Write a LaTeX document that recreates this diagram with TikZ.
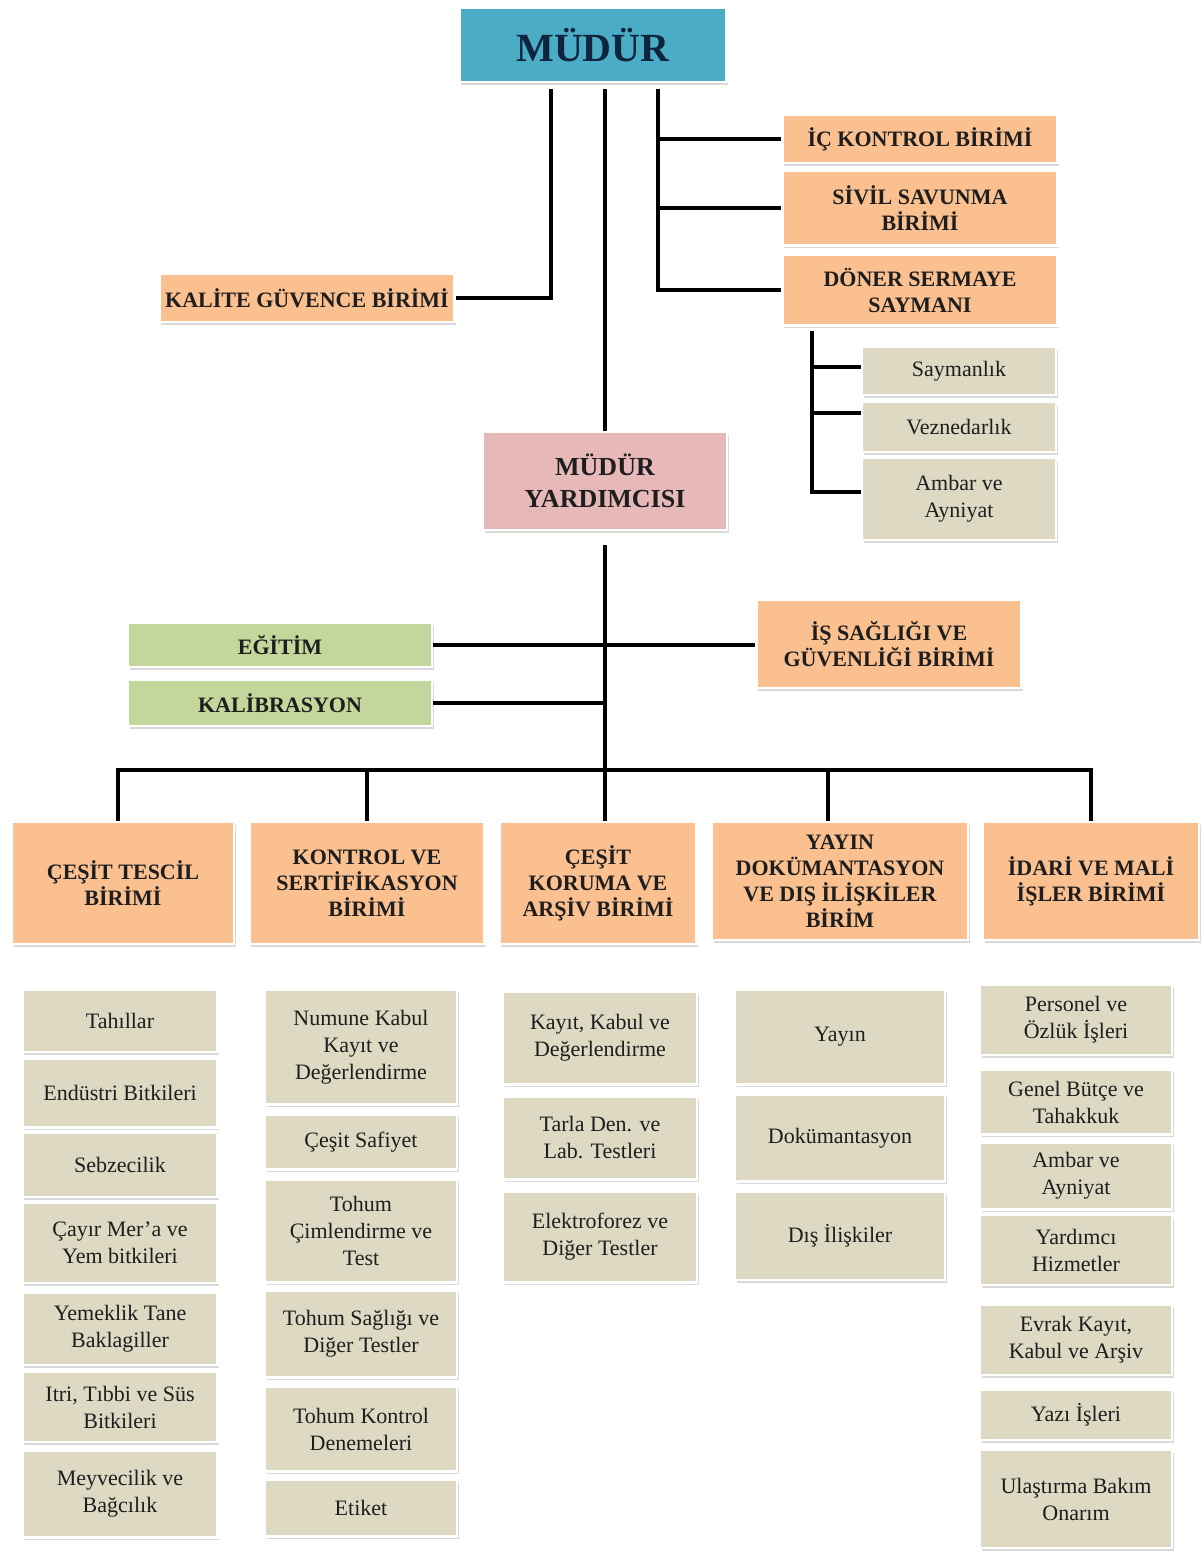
\documentclass[tikz,border=0pt]{standalone}
\usepackage{fontspec}
\setmainfont{Liberation Serif}
\usepackage{tikz}
\usetikzlibrary{shadows}
\usepackage{xcolor}

\definecolor{mudurblue}{HTML}{4BACC6}
\definecolor{mudurtext}{HTML}{0F243E}
\definecolor{unitorange}{HTML}{FAC090}
\definecolor{subgrey}{HTML}{DDD9C3}
\definecolor{edugreen}{HTML}{C3D69B}
\definecolor{yardpink}{HTML}{E6B9B8}
\definecolor{textdark}{HTML}{1E1E1E}

\tikzset{
    box/.style={rectangle, draw=white, line width=1.2pt, align=center, inner sep=2pt, text=textdark,
        drop shadow={shadow xshift=0.8pt, shadow yshift=-1.4pt, opacity=0.3}},
    sz/.style 2 args={minimum width=#1*0.5pt, minimum height=#2*0.5pt},
    head/.style={box, fill=unitorange, font=\fontsize{11}{13}\selectfont\bfseries},
    sub/.style={box, fill=subgrey, font=\fontsize{11}{13.5}\selectfont},
    edubox/.style={box, fill=edugreen, font=\fontsize{11}{13}\selectfont\bfseries},
    link/.style={line width=2.4pt, black}
}

\begin{document}
\begin{tikzpicture}[x=0.5pt, y=-0.5pt]

    \useasboundingbox (0,0) rectangle (1201,1559);

    % Top: Müdür and its units
    \node[box, fill=mudurblue, sz={267}{74}, text=mudurtext, font=\fontsize{20}{24}\selectfont\bfseries] (mudur) at (593,45) {MÜDÜR};
    \node[head, sz={275}{48}] (ic) at (920,139) {İÇ KONTROL BİRİMİ};
    \node[head, sz={275}{75}] (sivil) at (920,208) {SİVİL SAVUNMA\\BİRİMİ};
    \node[head, sz={275}{71}] (doner) at (920,290) {DÖNER SERMAYE\\SAYMANI};
    \node[head, sz={295}{48}] (kalite) at (307,298) {KALİTE GÜVENCE BİRİMİ};

    % Döner sermaye sub units
    \node[sub, sz={194}{48}] (saym) at (959,371) {Saymanlık};
    \node[sub, sz={194}{50}] (vezne) at (959,427) {Veznedarlık};
    \node[sub, sz={194}{82}] (ambar1) at (959,499) {Ambar ve\\Ayniyat};

    % Müdür yardımcısı
    \node[box, fill=yardpink, sz={244}{98}, font=\fontsize{13}{16}\selectfont\bfseries] (yard) at (605,481) {MÜDÜR\\YARDIMCISI};
    \node[edubox, sz={304}{44}] (egitim) at (280,645) {EĞİTİM};
    \node[edubox, sz={304}{46}] (kalib) at (280,703) {KALİBRASYON};
    \node[head, sz={265}{88}] (isg) at (889,644) {İŞ SAĞLIĞI VE\\GÜVENLİĞİ BİRİMİ};

    % Units
    \node[head, sz={222}{122}] (tescil) at (123,883) {ÇEŞİT TESCİL\\BİRİMİ};
    \node[head, sz={235}{122}] (kontrol) at (367,883) {KONTROL VE\\SERTİFİKASYON\\BİRİMİ};
    \node[head, sz={197}{122}] (koruma) at (598,883) {ÇEŞİT\\KORUMA VE\\ARŞİV BİRİMİ};
    \node[head, sz={256}{118}] (yayin) at (840,881) {YAYIN\\DOKÜMANTASYON\\VE DIŞ İLİŞKİLER\\BİRİM};
    \node[head, sz={216}{118}] (idari) at (1091,881) {İDARİ VE MALİ\\İŞLER BİRİMİ};

    % Çeşit tescil column
    \node[sub, sz={195}{62}] (tahil) at (120,1021) {Tahıllar};
    \node[sub, sz={195}{69}] (endustri) at (120,1093) {Endüstri Bitkileri};
    \node[sub, sz={195}{64}] (sebze) at (120,1165) {Sebzecilik};
    \node[sub, sz={195}{80}] (cayir) at (120,1243) {Çayır Mer’a ve\\Yem bitkileri};
    \node[sub, sz={195}{72}] (yemeklik) at (120,1329) {Yemeklik Tane\\Baklagiller};
    \node[sub, sz={195}{70}] (itri) at (120,1407) {Itri, Tıbbi ve Süs\\Bitkileri};
    \node[sub, sz={195}{87}] (meyve) at (120,1494) {Meyvecilik ve\\Bağcılık};

    % Kontrol ve sertifikasyon column
    \node[sub, sz={192}{115}] (numune) at (361,1047) {Numune Kabul\\Kayıt ve\\Değerlendirme};
    \node[sub, sz={192}{55}] (safiyet) at (361,1142) {Çeşit Safiyet};
    \node[sub, sz={192}{103}] (cimlen) at (361,1231) {Tohum\\Çimlendirme ve\\Test};
    \node[sub, sz={192}{87}] (saglik) at (361,1334) {Tohum Sağlığı ve\\Diğer Testler};
    \node[sub, sz={192}{85}] (deneme) at (361,1429) {Tohum Kontrol\\Denemeleri};
    \node[sub, sz={192}{57}] (etiket) at (361,1508) {Etiket};

    % Çeşit koruma column
    \node[sub, sz={194}{93}] (kayit) at (600,1038) {Kayıt, Kabul ve\\Değerlendirme};
    \node[sub, sz={194}{83}] (tarla) at (600,1138) {Tarla Den. ve\\Lab. Testleri};
    \node[sub, sz={194}{91}] (elektro) at (600,1237) {Elektroforez ve\\Diğer Testler};

    % Yayın column
    \node[sub, sz={210}{95}] (yayn) at (840,1037) {Yayın};
    \node[sub, sz={210}{87}] (dokuman) at (840,1138) {Dokümantasyon};
    \node[sub, sz={210}{88}] (dis) at (840,1236) {Dış İlişkiler};

    % İdari ve mali işler column
    \node[sub, sz={192}{70}] (personel) at (1076,1020) {Personel ve\\Özlük İşleri};
    \node[sub, sz={192}{65}] (butce) at (1076,1102) {Genel Bütçe ve\\Tahakkuk};
    \node[sub, sz={192}{67}] (ambar2) at (1076,1176) {Ambar ve\\Ayniyat};
    \node[sub, sz={192}{70}] (yardimci) at (1076,1250) {Yardımcı\\Hizmetler};
    \node[sub, sz={192}{70}] (evrak) at (1076,1340) {Evrak Kayıt,\\Kabul ve Arşiv};
    \node[sub, sz={192}{50}] (yazi) at (1076,1415) {Yazı İşleri};
    \node[sub, sz={192}{98}] (ulastirma) at (1076,1499) {Ulaştırma Bakım\\Onarım};

    % Links from Müdür
    \coordinate (ltrunk) at ([xshift=-21pt,yshift=-3pt]mudur.south);
    \coordinate (rtrunk) at ([xshift=32.5pt,yshift=-3pt]mudur.south);
    \coordinate (mtrunk) at ([yshift=-3pt]yard.north |- mudur.south);
    \draw[link] (ltrunk) |- (kalite.east);
    \draw[link] (rtrunk) |- (ic.west);
    \draw[link] (rtrunk) |- (sivil.west);
    \draw[link] (rtrunk) |- (doner.west);
    \draw[link] (mtrunk) -- (yard.north);

    % Links under Döner sermaye
    \coordinate (dtrunk) at ([xshift=-54pt,yshift=-2pt]doner.south);
    \draw[link] (dtrunk) |- ([yshift=2pt]saym.west);
    \draw[link] (dtrunk) |- ([yshift=7pt]vezne.west);
    \draw[link] (dtrunk) |- ([yshift=3.5pt]ambar1.west);

    % Links from Müdür yardımcısı
    \coordinate (bus) at (605,770);
    \draw[link] ([yshift=-7pt]yard.south) -- (bus);
    \draw[link] (egitim.east) -- (egitim.east -| isg.west);
    \draw[link] (kalib.east) -- (kalib.east -| bus);

    % Bus to the units
    \coordinate (tdrop) at ([xshift=-2.5pt]tescil.north);
    \coordinate (ydrop) at ([xshift=-6pt]yayin.north);
    \draw[link] (tdrop) |- (idari.north |- bus) -- (idari.north);
    \draw[link] (kontrol.north) -- (kontrol.north |- bus);
    \draw[link] (bus) -- (bus |- koruma.north);
    \draw[link] (ydrop) -- (ydrop |- bus);

\end{tikzpicture}
\end{document}
